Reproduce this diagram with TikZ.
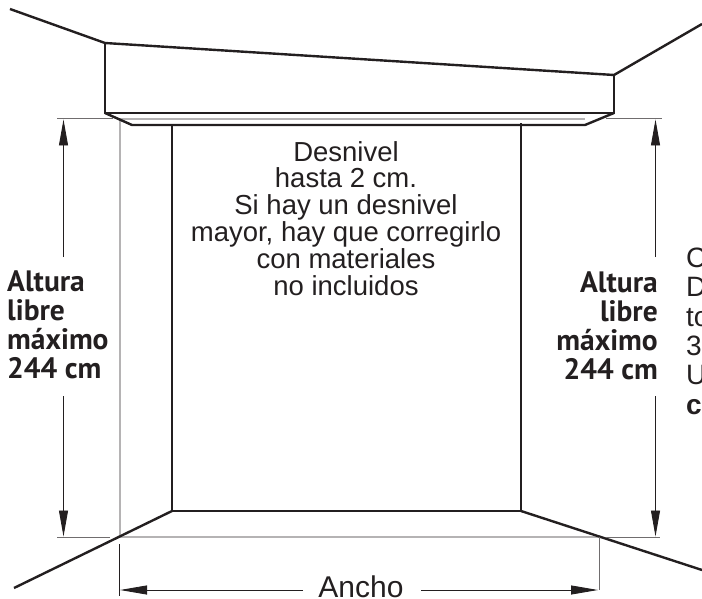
\documentclass[tikz,border=0pt]{standalone}
\usepackage{fontspec}
\usetikzlibrary{arrows.meta}
\setmainfont{Liberation Sans}
\newfontfamily\boldlabel{PT Sans}[BoldFont={PT Sans Bold}]
\definecolor{ink}{HTML}{231F20}
\definecolor{guide}{HTML}{B5B3B4}
\tikzset{
  wall/.style={draw=ink,line width=2.4pt,line join=miter},
  dim/.style={draw=ink,line width=0.9pt},
  tick/.style={draw=ink!65,line width=1pt},
  guideline/.style={draw=guide,line width=1.3pt},
  dimarrow/.style={dim,-{Triangle[length=26pt,width=9pt,color=ink]}},
  body/.style={text=ink,inner sep=0pt,font=\fontsize{27.5}{26.8}\selectfont,align=center},
  side/.style={text=ink,inner sep=0pt,font=\boldlabel\bfseries\fontsize{29.5}{29}\selectfont},
  cut/.style={text=ink,inner sep=0pt,anchor=base west,font=\fontsize{28}{29}\selectfont}
}
\begin{document}
\begin{tikzpicture}[x=1pt,y=-1pt]
\useasboundingbox (0,0) rectangle (702,599);
% guides
\coordinate (GTL) at (120,119); \coordinate (GTR) at (585,119);
\coordinate (GBL) at (120,537); \coordinate (GBR) at (600,537);
\draw[guideline] (GTL) -- (GTR);
\draw[guideline] (GTL) -- (GBL) -- (GBR);
% soffit
\coordinate (A) at (105,43); \coordinate (B) at (614,75);
\coordinate (C) at (614,113); \coordinate (D) at (105,113);
\coordinate (E) at (132,125); \coordinate (F) at (585,125);
\draw[wall] (10,9) -- (A) -- (B) -- (702,24);
\draw[wall] (A) -- (D) -- (C) -- (B);
\draw[wall] (D) -- (E) -- (F) -- (C);
% wall
\coordinate (W1) at (172,125); \coordinate (W2) at (172,511);
\coordinate (W3) at (521,511); \coordinate (W4) at (521,123);
\draw[wall] (W1) -- (W2) -- (W3) -- (W4);
\draw[wall] (W2) -- (14,588);
\draw[wall] (W3) -- (702,570);
% left dimension
\draw[tick] (57,119) -- (113,119);
\draw[tick] (57,537) -- (110,537);
\draw[dimarrow] (63.5,257) -- (63.5,119.5);
\draw[dimarrow] (63.5,396) -- (63.5,536.5);
% right dimension
\draw[tick] (606,119) -- (662,119);
\draw[tick] (606,537) -- (660,537);
\draw[dimarrow] (655.5,257) -- (655.5,119.5);
\draw[dimarrow] (655.5,396) -- (655.5,536.5);
% width dimension
\draw[dim] (119.5,544) -- (119.5,596);
\draw[tick] (599,537) -- (599,590);
\draw[dim,-{Triangle[length=27pt,width=9pt,color=ink]}] (303,590) -- (120,590);
\draw[dim,-{Triangle[length=27pt,width=9pt,color=ink]}] (421,590) -- (598,590);
% texts
\node[body,anchor=north] (note) at (346,141) {Desnivel\\hasta 2 cm.\\Si hay un desnivel\\mayor, hay que corregirlo\\con materiales\\no incluidos};
\node[text=ink,inner sep=0pt,anchor=base,font=\fontsize{30}{30}\selectfont] (ancho) at (361,597) {Ancho};
\node[side,anchor=north west,align=left] (hl) at (7,271) {Altura\\libre\\máximo\\244 cm};
\node[side,anchor=north east,align=right] (hr) at (658,272) {Altura\\libre\\máximo\\244 cm};
\node[cut] (c1) at (686,267) {C};
\node[cut] (c2) at (686,296) {D};
\node[cut] (c3) at (686,326) {to};
\node[cut] (c4) at (686,355) {3};
\node[cut] (c5) at (686,384) {U};
\node[cut] (c6) at (686,414) {\bfseries c};
\end{tikzpicture}
\end{document}
